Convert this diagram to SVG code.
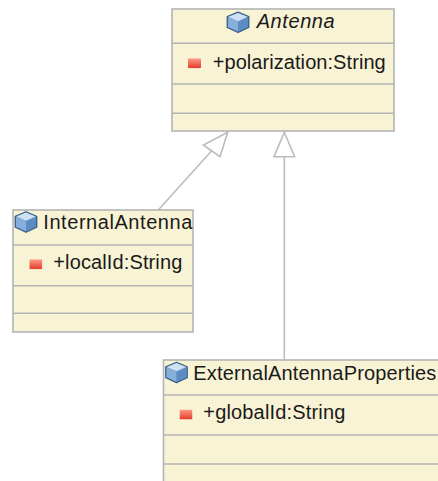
<svg xmlns="http://www.w3.org/2000/svg" width="438" height="481" viewBox="0 0 438 481">
<style>
.box{fill:#f8f3d4;stroke:#b4b4b4;stroke-width:1.6}
.div{stroke:#b4b4b4;stroke-width:1.6;fill:none}
.t{font-family:"Liberation Sans",Arial,sans-serif;font-size:20px;fill:#1a1a1a}
.conn{stroke:#bcbcbc;stroke-width:1.6;fill:none}
.head{stroke:#bcbcbc;stroke-width:1.6;fill:#ffffff;stroke-linejoin:miter}
</style>
<defs>
<linearGradient id="red" x1="0" y1="0" x2="0" y2="1">
<stop offset="0" stop-color="#ff9a88"/>
<stop offset="1" stop-color="#e23a28"/>
</linearGradient>
<symbol id="cube" viewBox="0 0 22 21" width="23" height="22" overflow="visible">
<path d="M11,0.8 L21.2,5.2 L21.2,15.4 L11,20.2 L0.8,15.4 L0.8,5.2 Z" fill="#6b9bcc" stroke="#3d618a" stroke-width="1.4" stroke-linejoin="round"/>
<path d="M1.5,5.6 L11,9.8 L11,19.4 L1.5,15 Z" fill="#85b0dc"/>
<path d="M20.5,5.6 L11,9.8 L11,19.4 L20.5,15 Z" fill="#5c8dc2"/>
<path d="M11,1.5 L20.3,5.3 L11,9.4 L1.7,5.3 Z" fill="#cfe1f4"/>
</symbol>
<symbol id="attr" viewBox="0 0 13 10" width="13" height="10">
<rect x="0" y="0" width="13" height="10" rx="1" fill="url(#red)"/>
</symbol>
</defs>

<g id="connectors">
<line class="conn" x1="158.3" y1="210" x2="211.7" y2="150.8"/>
<polygon class="head" points="227.7,132.3 203.3,145 220,156.7"/>
<line class="conn" x1="284.3" y1="156.7" x2="284.3" y2="360"/>
<polygon class="head" points="284.3,132.3 274,156.7 294.6,156.7"/>
</g>

<g id="Antenna">
<rect class="box" x="172" y="9" width="222" height="122"/>
<line class="div" x1="172" y1="43.3" x2="394" y2="43.3"/>
<line class="div" x1="172" y1="84" x2="394" y2="84"/>
<line class="div" x1="172" y1="113.3" x2="394" y2="113.3"/>
<use href="#cube" x="226.5" y="11.3"/>
<text class="t" x="256.7" y="27.8" font-style="italic" textLength="78" lengthAdjust="spacing">Antenna</text>
<use href="#attr" x="188" y="58.3"/>
<text class="t" x="212.7" y="68.5" textLength="173" lengthAdjust="spacing">+polarization:String</text>
</g>

<g id="InternalAntenna">
<rect class="box" x="13" y="210" width="180" height="122"/>
<line class="div" x1="13" y1="245" x2="193" y2="245"/>
<line class="div" x1="13" y1="285.7" x2="193" y2="285.7"/>
<line class="div" x1="13" y1="313.3" x2="193" y2="313.3"/>
<use href="#cube" x="14.5" y="211"/>
<text class="t" x="43.3" y="229" textLength="149" lengthAdjust="spacing">InternalAntenna</text>
<use href="#attr" x="29.3" y="259.3"/>
<text class="t" x="53.3" y="269" textLength="129" lengthAdjust="spacing">+localId:String</text>
</g>

<g id="ExternalAntennaProperties">
<rect class="box" x="163.5" y="360" width="290" height="140"/>
<line class="div" x1="163.5" y1="395" x2="438" y2="395"/>
<line class="div" x1="163.5" y1="435" x2="438" y2="435"/>
<line class="div" x1="163.5" y1="464" x2="438" y2="464"/>
<use href="#cube" x="165" y="361.5"/>
<text class="t" x="193.3" y="379.5" textLength="243" lengthAdjust="spacing">ExternalAntennaProperties</text>
<use href="#attr" x="179.5" y="409.5"/>
<text class="t" x="203.3" y="418.5" textLength="142" lengthAdjust="spacing">+globalId:String</text>
</g>
</svg>
